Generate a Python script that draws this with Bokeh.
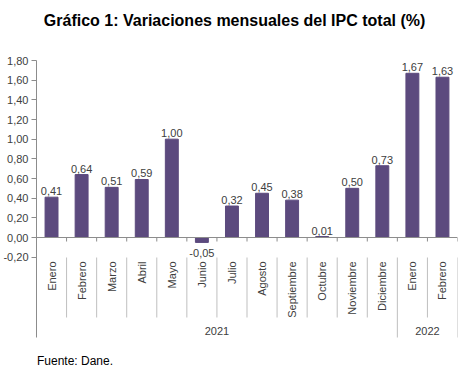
import math
from bokeh.plotting import figure
from bokeh.models import FixedTicker, CustomJSTickFormatter, Range1d
from bokeh.core.properties import value
from bokeh.embed import file_html
from bokeh.resources import INLINE

# ---------------- data ----------------
months = ["Enero", "Febrero", "Marzo", "Abril", "Mayo", "Junio", "Julio",
          "Agosto", "Septiembre", "Octubre", "Noviembre", "Diciembre",
          "Enero", "Febrero"]
ipc = [0.41, 0.64, 0.51, 0.59, 1.00, -0.05, 0.32, 0.45, 0.38, 0.01,
       0.50, 0.73, 1.67, 1.63]
years = ["2021", "2022"]
months_per_year = [12, 2]
y_ticks = [-0.2, 0.0, 0.2, 0.4, 0.6, 0.8, 1.0, 1.2, 1.4, 1.6, 1.8]
title_text = "Gráfico 1: Variaciones mensuales del IPC total (%)"
source_text = "Fuente: Dane."

# ---------------- geometry ----------------
W, H = 468, 370
MARGIN = 0             # Bokeh's page template removes the body margin
LEFT = 33
FRAME_RIGHT_PX = 457
RIGHT = W - FRAME_RIGHT_PX
ZERO_PY = 237          # page y of value 0
PPU = 98.33            # pixels per unit on y
n = len(months)
cat_w = (W - LEFT - RIGHT) / n
frame_left_px = MARGIN + LEFT


def yv(py):
    return (ZERO_PY - py) / PPU


def xv(px):
    return (px - frame_left_px) / cat_w


FONT = "Liberation Sans"
TXT = "#404040"
BAR = "#5C4A7E"
AXIS = "#8C8C8C"
SEP = "#BFBFBF"

p = figure(width=W, height=H, x_range=Range1d(0, n),
           y_range=Range1d(yv(MARGIN + H), yv(MARGIN)),
           x_axis_type=None, output_backend="svg", toolbar_location=None,
           min_border_left=LEFT, min_border_right=RIGHT,
           min_border_top=0, min_border_bottom=0)
p.outline_line_color = None
p.grid.visible = False
p.background_fill_color = "white"
p.border_fill_color = "white"

# y axis
ax = p.yaxis[0]
ax.ticker = FixedTicker(ticks=y_ticks)
ax.formatter = CustomJSTickFormatter(code="return tick.toFixed(2).replace('.', ',');")
ax.bounds = (yv(337), y_ticks[-1])
ax.axis_line_color = AXIS
ax.major_tick_line_color = AXIS
ax.major_tick_in = 0
ax.major_tick_out = 5
ax.minor_tick_line_color = None
ax.major_label_standoff = 3
ax.major_label_text_font = FONT
ax.major_label_text_font_size = "11px"
ax.major_label_text_color = TXT

centers = [i + 0.5 for i in range(n)]

# bars
p.vbar(x=centers, top=ipc, bottom=0, width=0.43, fill_color=BAR, line_color=BAR)

# zero line and small ticks
p.segment(x0=[0], y0=[0], x1=[n], y1=[0], line_color=AXIS, line_width=1)
bounds_x = list(range(1, n + 1))
p.segment(x0=bounds_x, y0=[0] * n, x1=bounds_x, y1=[yv(241)] * n,
          line_color=AXIS, line_width=1)

# value labels
pos_x = [c for c, v in zip(centers, ipc) if v >= 0]
pos_y = [v + 6 / PPU for v in ipc if v >= 0]
pos_t = [f"{v:.2f}".replace(".", ",") for v in ipc if v >= 0]
neg_x = [c for c, v in zip(centers, ipc) if v < 0]
neg_y = [v - 11 / PPU for v in ipc if v < 0]
neg_t = [f"{v:.2f}".replace(".", ",") for v in ipc if v < 0]
p.text(x=pos_x, y=pos_y, text=pos_t, text_align="center",
       text_baseline="alphabetic", text_font=value(FONT),
       text_font_size="11px", text_color=TXT)
p.text(x=neg_x, y=neg_y, text=neg_t, text_align="center",
       text_baseline="middle", text_font=value(FONT),
       text_font_size="11px", text_color=TXT)

# month labels (rotated)
p.text(x=centers, y=[yv(261)] * n, text=months, angle=math.pi / 2,
       text_align="right", text_baseline="middle", text_font=value(FONT),
       text_font_size="11px", text_color=TXT)

# separators
group_ends = []
acc = 0
for c in months_per_year:
    acc += c
    group_ends.append(acc)
short_x = [b for b in bounds_x if b not in group_ends]
p.segment(x0=short_x, y0=[yv(257)] * len(short_x), x1=short_x,
          y1=[yv(317)] * len(short_x), line_color=SEP, line_width=1)
p.segment(x0=group_ends, y0=[yv(257)] * len(group_ends), x1=group_ends,
          y1=[yv(337)] * len(group_ends), line_color=SEP, line_width=1)

# year labels
starts = [0] + group_ends[:-1]
year_x = [(s + e) / 2 for s, e in zip(starts, group_ends)]
p.text(x=year_x, y=[yv(330)] * len(years), text=years, text_align="center",
       text_baseline="middle", text_font=value(FONT),
       text_font_size="11px", text_color=TXT)

# title
p.text(x=[xv(232.5)], y=[yv(20)], text=[title_text], text_align="center",
       text_baseline="middle", text_font=value(FONT), text_font_style="bold",
       text_font_size="16px", text_color="black")

# source note
p.text(x=[xv(33.5)], y=[yv(360)], text=[source_text], text_align="left",
       text_baseline="middle", text_font=value(FONT),
       text_font_size="12px", text_color="black")

open("out.html", "w").write(file_html(p, INLINE))
